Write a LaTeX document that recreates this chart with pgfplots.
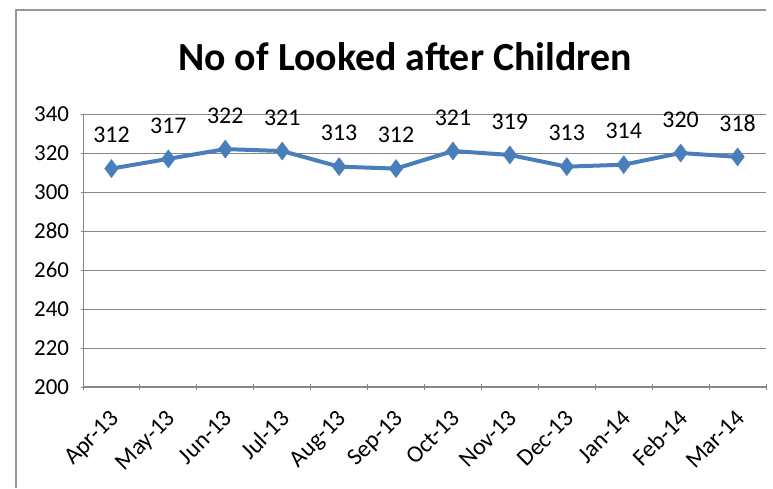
\documentclass[border=0pt]{standalone}
\usepackage{pgfplots}
\pgfplotsset{compat=1.18}
\usepackage{fontspec}
\setmainfont{Carlito}
\definecolor{lineblue}{RGB}{74,126,187}
\definecolor{gridgray}{RGB}{134,134,134}
\definecolor{framegray}{RGB}{150,150,150}

\begin{document}
\begin{tikzpicture}[x=1bp,y=1bp]
\path (0,0) rectangle (773,488);
\draw[framegray, line width=1.2bp] (16,0) -- (16,478) -- (766,478);
\node[font=\fontsize{40}{46}\selectfont\bfseries] at (405,431) {No of Looked after Children};
\begin{axis}[
    at={(83bp,101bp)}, anchor=south west,
    scale only axis,
    width=683bp, height=273bp,
    xmin=-0.5, xmax=11.5,
    ymin=200, ymax=340,
    ytick={200,220,...,340},
    xtick={0,...,11},
    xticklabels={Apr-13,May-13,Jun-13,Jul-13,Aug-13,Sep-13,Oct-13,Nov-13,Dec-13,Jan-14,Feb-14,Mar-14},
    minor xtick={-0.5,0.5,...,11.5},
    major x tick style={draw=none},
    tick align=outside,
    major tick length=5bp,
    minor tick length=6bp,
    tick style={gridgray, line width=0.9bp},
    axis lines=left,
    axis line style={gridgray, line width=1bp, -},
    ymajorgrids,
    grid style={gridgray, line width=0.9bp},
    yticklabel style={font=\fontsize{23}{27}\selectfont, xshift=-8bp},
    xticklabel style={font=\fontsize{24}{28}\selectfont, rotate=45, anchor=north east, xshift=-12bp, yshift=-8bp},
    /pgf/number format/assume math mode=true,
    /pgf/number format/1000 sep={},
    clip=false,
    nodes near coords,
    every node near coord/.append style={font=\fontsize{24}{28}\selectfont, black, yshift=22bp},
]
\addplot[color=lineblue, line width=4bp, mark=diamond*, mark size=9bp,
    mark options={fill=lineblue, line width=0.5bp}]
coordinates {(0,312)(1,317)(2,322)(3,321)(4,313)(5,312)(6,321)(7,319)(8,313)(9,314)(10,320)(11,318)};
\end{axis}
\end{tikzpicture}
\end{document}
